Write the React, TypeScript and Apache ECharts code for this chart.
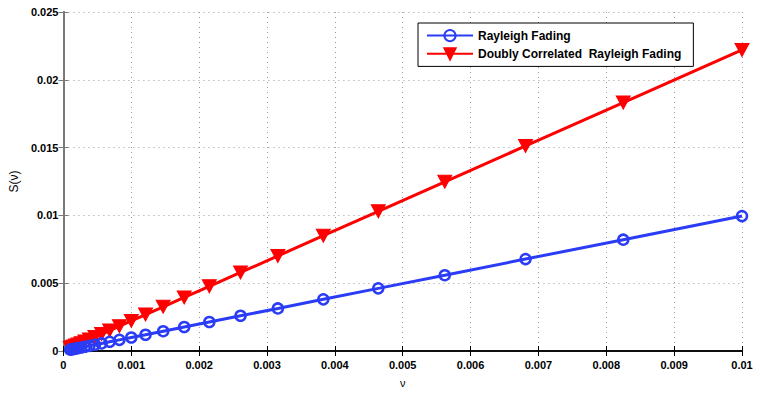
import React, { useEffect, useRef } from "react";
import * as echarts from "echarts";

const nuValues = [0.0001, 0.000121, 0.000147, 0.000178, 0.000215, 0.000261, 0.000316, 0.000383, 0.000464, 0.000562, 0.000681, 0.000825, 0.001, 0.00121, 0.00147, 0.00178, 0.00215, 0.00261, 0.00316, 0.00383, 0.00464, 0.00562, 0.00681, 0.00825, 0.01];
const rayleigh = [0.0001, 0.00012, 0.000146, 0.000177, 0.000214, 0.00026, 0.000314, 0.000381, 0.000462, 0.000559, 0.000678, 0.000821, 0.000995, 0.0012, 0.00146, 0.00177, 0.00214, 0.0026, 0.00314, 0.00381, 0.00462, 0.00559, 0.00678, 0.00821, 0.00995];
const doublyCorrelated = [0.00022, 0.00027, 0.00033, 0.0004, 0.00048, 0.00058, 0.0007, 0.00085, 0.00103, 0.00125, 0.00151, 0.00183, 0.00222, 0.00269, 0.00326, 0.00395, 0.00477, 0.00579, 0.00701, 0.0085, 0.0103, 0.01248, 0.01512, 0.01832, 0.0222];
const seriesNames = ["Rayleigh Fading", "Doubly Correlated  Rayleigh Fading"];

const FONT = "'Liberation Sans', Arial, Helvetica, sans-serif";

export default function App() {
  const ref = useRef<HTMLDivElement>(null);
  useEffect(() => {
    if (!ref.current) return;
    const chart = echarts.init(ref.current, null, { renderer: "svg" });
    const tickLabel = { color: "#000", fontWeight: "bold" as const, fontSize: 11, fontFamily: FONT };
    const gridLine = { show: true, lineStyle: { color: "#9a9a9a", type: [1, 4] as any, width: 1 } };
    chart.setOption({
      animation: false,
      backgroundColor: "#fff",
      grid: { left: 61, right: 19, top: 12, bottom: 41, containLabel: false },
      legend: {
        left: 418,
        top: 23,
        orient: "vertical",
        backgroundColor: "#fff",
        borderColor: "#000",
        borderWidth: 1,
        borderRadius: 0,
        padding: [6, 12, 6, 8],
        itemGap: 5,
        itemWidth: 46,
        itemHeight: 14,
        textStyle: { color: "#000", fontWeight: "bold", fontSize: 12, fontFamily: FONT },
        data: seriesNames,
      },
      xAxis: [
        {
          type: "value",
          min: 0,
          max: 0.01,
          interval: 0.001,
          position: "bottom",
          name: "ν",
          nameLocation: "middle",
          nameGap: 26,
          nameTextStyle: { color: "#000", fontSize: 11, fontFamily: FONT },
          axisLine: { show: true, lineStyle: { color: "#000", width: 1.5 } },
          axisTick: { show: true, inside: true, length: 5, lineStyle: { color: "#000" } },
          axisLabel: { ...tickLabel, margin: 8, formatter: (v: number) => String(+v.toFixed(4)) },
          splitLine: gridLine,
        },
        {
          type: "value",
          min: 0,
          max: 0.01,
          interval: 0.001,
          position: "top",
          axisLine: { show: true, lineStyle: { color: "#000", width: 1.5 } },
          axisTick: { show: true, inside: true, length: 5, lineStyle: { color: "#000" } },
          axisLabel: { show: false },
          splitLine: { show: false },
        },
      ],
      yAxis: [
        {
          type: "value",
          min: 0,
          max: 0.025,
          interval: 0.005,
          position: "left",
          name: "S(ν)",
          nameLocation: "middle",
          nameGap: 43,
          nameTextStyle: { color: "#000", fontSize: 12, fontFamily: FONT },
          axisLine: { show: true, lineStyle: { color: "#7a7a7a", width: 2 } },
          axisTick: { show: true, inside: true, length: 5, lineStyle: { color: "#7a7a7a" } },
          axisLabel: { ...tickLabel, margin: 5, formatter: (v: number) => String(+v.toFixed(4)) },
          splitLine: gridLine,
        },
        {
          type: "value",
          min: 0,
          max: 0.025,
          interval: 0.005,
          position: "right",
          axisLine: { show: true, lineStyle: { color: "#7a7a7a", width: 2 } },
          axisTick: { show: true, inside: true, length: 5, lineStyle: { color: "#7a7a7a" } },
          axisLabel: { show: false },
          splitLine: { show: false },
        },
      ],
      series: [
        {
          name: seriesNames[0],
          type: "line",
          data: nuValues.map((x, i) => [x, rayleigh[i]]),
          symbol: "circle",
          symbolSize: 10,
          showAllSymbol: true,
          lineStyle: { color: "#2a3cf5", width: 3 },
          itemStyle: { color: "rgba(255,255,255,0)", borderColor: "#2a3cf5", borderWidth: 2.5 },
          z: 3,
        },
        {
          name: seriesNames[1],
          type: "line",
          data: nuValues.map((x, i) => [x, doublyCorrelated[i]]),
          symbol: "triangle",
          symbolRotate: 180,
          symbolSize: [14, 13],
          showAllSymbol: true,
          lineStyle: { color: "#ff0000", width: 3 },
          itemStyle: { color: "#ff0000", borderColor: "#ff0000", borderWidth: 1 },
          z: 2,
        },
      ],
    });
    return () => chart.dispose();
  }, []);
  return <div ref={ref} style={{ width: 761, height: 393, position: "absolute", left: 0, top: 0 }} />;
}
